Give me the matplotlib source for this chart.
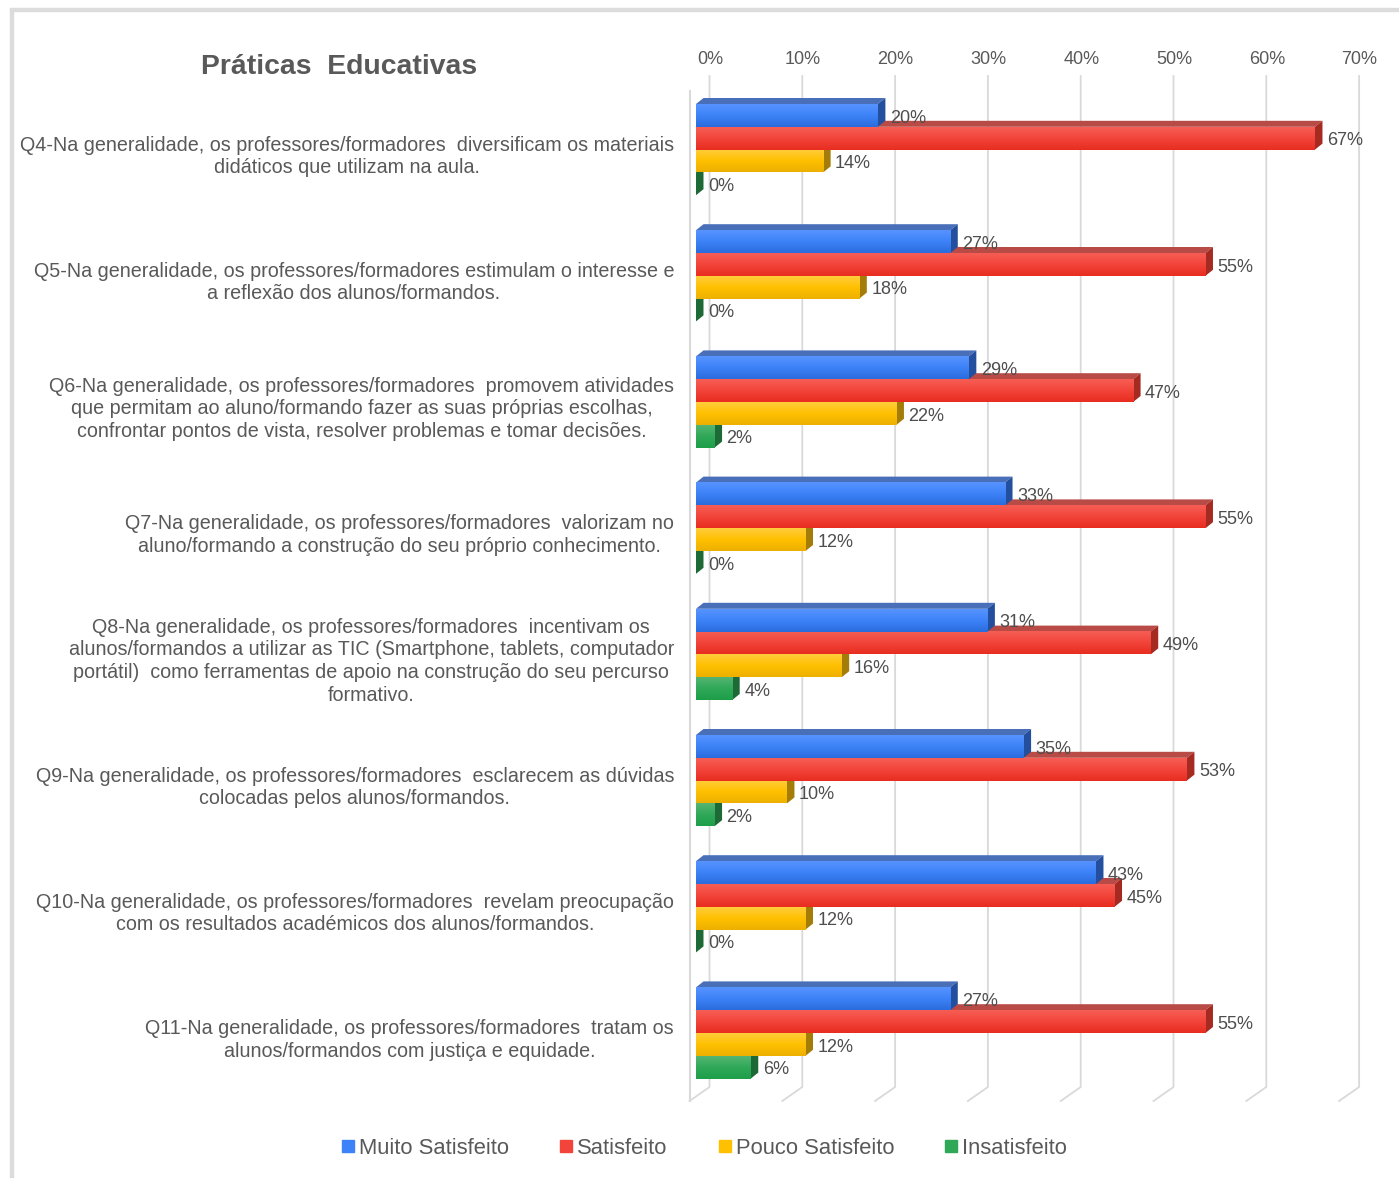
import numpy as np
import matplotlib
matplotlib.use("Agg")
import matplotlib.pyplot as plt
from matplotlib.colors import LinearSegmentedColormap
from matplotlib.lines import Line2D
from matplotlib.patches import Polygon
from matplotlib.transforms import Affine2D, IdentityTransform

plt.rcParams['font.family'] = ['Liberation Sans', 'DejaVu Sans']

# dados (%)
questions = [
    "Q4-Na generalidade, os professores/formadores  diversificam os materiais\ndidáticos que utilizam na aula.",
    "Q5-Na generalidade, os professores/formadores estimulam o interesse e\na reflexão dos alunos/formandos.",
    "Q6-Na generalidade, os professores/formadores  promovem atividades\nque permitam ao aluno/formando fazer as suas próprias escolhas,\nconfrontar pontos de vista, resolver problemas e tomar decisões.",
    "Q7-Na generalidade, os professores/formadores  valorizam no\naluno/formando a construção do seu próprio conhecimento.",
    "Q8-Na generalidade, os professores/formadores  incentivam os\nalunos/formandos a utilizar as TIC (Smartphone, tablets, computador\nportátil)  como ferramentas de apoio na construção do seu percurso\nformativo.",
    "Q9-Na generalidade, os professores/formadores  esclarecem as dúvidas\ncolocadas pelos alunos/formandos.",
    "Q10-Na generalidade, os professores/formadores  revelam preocupação\ncom os resultados académicos dos alunos/formandos.",
    "Q11-Na generalidade, os professores/formadores  tratam os\nalunos/formandos com justiça e equidade.",
]
muito_satisfeito = [19.6, 27.4, 29.4, 33.3, 31.4, 35.3, 43.1, 27.4]
satisfeito = [66.7, 54.9, 47.1, 54.9, 49.0, 52.9, 45.1, 54.9]
pouco_satisfeito = [13.7, 17.6, 21.6, 11.8, 15.7, 9.8, 11.8, 11.8]
insatisfeito = [0.0, 0.0, 2.0, 0.0, 3.9, 2.0, 0.0, 5.9]
x_ticks = [0, 10, 20, 30, 40, 50, 60, 70]

series = [
    ("Muito Satisfeito", muito_satisfeito, ["#5793FF", "#3D82F8", "#2A6CDD"], "#234F9E", "#4A6FB9"),
    ("Satisfeito", satisfeito, ["#F65E55", "#F2443A", "#E82D20"], "#A52A22", "#B94B46"),
    ("Pouco Satisfeito", pouco_satisfeito, ["#FFCD3C", "#FFC000", "#EDB000"], "#A47D08", "#BF9A2E"),
    ("Insatisfeito", insatisfeito, ["#55B472", "#2FA858", "#1E9E49"], "#1E6A36", "#4C8F62"),
]

W, H = 1399, 1178
PX_PER_PCT = 9.28
BAR_H = 22.8 / 126.2
DEPTH_X, DEPTH_Y = 7.5, 6
TEXT = "#595959"
VALUE_TEXT = "#4D4D4D"
GRID = "#D9D9D9"


def frac_x(px):
    return px / W


def frac_y(px):
    return 1 - px / H


fig = plt.figure(figsize=(W / 100, H / 100), dpi=100)
ax_left, ax_top, ax_bottom = 696, 92, 1101
ax = fig.add_axes([frac_x(ax_left), frac_y(ax_bottom),
                   70 * PX_PER_PCT / W, (ax_bottom - ax_top) / H])
ax.set_facecolor("none")
for spine in ax.spines.values():
    spine.set_visible(False)

ylim = ((ax_bottom - 149.6) / 126.2, (ax_top - 149.6) / 126.2)
ax.set_xlim(0, 70)
ax.set_ylim(*ylim)


def to_px(x, y, dx=0, dy=0):
    px, py = ax.transData.transform((x, y))
    return px + dx, py + dy


# moldura cinzenta
fig.add_artist(Line2D([frac_x(12), frac_x(12), 1], [0, frac_y(10), frac_y(10)],
                      color="#DCDCDC", lw=3.2, solid_joinstyle="miter"))

# grelha com a parede em perspetiva
wall_y = ax.transAxes.transform((0, 0))[1]
ax.add_line(Line2D([ax_left - 6.5] * 2, [wall_y, wall_y + 1010], transform=IdentityTransform(),
                   color=GRID, lw=1.5, clip_on=False, zorder=1))
for tick in x_ticks:
    base_x = ax.transData.transform((tick, 0))[0]
    ax.add_line(Line2D([base_x - 6.5, base_x + 13.5, base_x + 13.5],
                       [wall_y, wall_y + 14, wall_y + 1025],
                       transform=IdentityTransform(), color=GRID, lw=1.3,
                       clip_on=False, zorder=1))

ys = np.arange(len(questions))
legend_handles = []
# de baixo para cima, a barra de cima tapa a face superior da seguinte
for s in range(len(series) - 1, -1, -1):
    name, values, grad, side_c, top_c = series[s]
    offset = (s - 1.5) * BAR_H
    z = 10 + (3 - s) * 3
    cmap = LinearSegmentedColormap.from_list(name, grad)
    bars = ax.barh(ys + offset, values, height=BAR_H, color=grad[1], zorder=z, clip_on=False)
    legend_handles.insert(0, Line2D([], [], ls="", marker="s", ms=8.6, color=grad[1], label=name))
    for y, v, bar in zip(ys + offset, values, bars):
        y0, y1 = y - BAR_H / 2, y + BAR_H / 2
        # face superior
        p = [to_px(0, y0), to_px(0, y0, DEPTH_X, DEPTH_Y),
             to_px(v, y0, DEPTH_X, DEPTH_Y), to_px(v, y0)]
        ax.add_patch(Polygon(p, closed=True, fc=top_c, ec="none", transform=IdentityTransform(),
                             clip_on=False, zorder=z - 1))
        # face lateral
        p = [to_px(v, y0), to_px(v, y0, DEPTH_X, DEPTH_Y),
             to_px(v, y1, DEPTH_X, DEPTH_Y), to_px(v, y1)]
        ax.add_patch(Polygon(p, closed=True, fc=side_c, ec="none", transform=IdentityTransform(),
                             clip_on=False, zorder=z - 1))
        if v > 0:
            im = ax.imshow(np.linspace(0, 1, 64).reshape(-1, 1), extent=(0, v, y1, y0), cmap=cmap,
                           aspect="auto", origin="upper", zorder=z + 0.5)
            im.set_clip_on(False)
        ax.annotate(f"{round(v)}%", (v, y), xytext=(8.6, -2), textcoords="offset points",
                    va="center", ha="left", fontsize=13, color=VALUE_TEXT, zorder=40)

ax.set_xlim(0, 70)
ax.set_ylim(*ylim)
ax.set_aspect("auto")

ax.xaxis.tick_top()
ax.set_xticks(x_ticks)
ax.set_xticklabels([f"{t}%" for t in x_ticks], fontsize=13, color=TEXT)
ax.tick_params(axis="x", length=0, pad=17.5)
for label in ax.get_xticklabels():
    label.set_transform(label.get_transform() + Affine2D().translate(14, 0))

ax.set_yticks(ys)
ax.set_yticklabels(questions, fontsize=14.2, color=TEXT, multialignment="center", linespacing=1.24)
ax.tick_params(axis="y", length=0, pad=15.8)
for label in ax.get_yticklabels():
    label.set_transform(label.get_transform() + Affine2D().translate(0, -3))

fig.text(frac_x(339.5), frac_y(66.5), "Práticas  Educativas", ha="center", va="center",
         fontsize=20.4, fontweight="bold", color=TEXT)

fig.legend(handles=legend_handles, loc="center", bbox_to_anchor=(frac_x(704.5), frac_y(1148)), ncol=4,
           frameon=False, fontsize=15.8, labelcolor=TEXT, handlelength=0.6, handletextpad=0.2,
           columnspacing=2.3, borderpad=0)

fig.savefig("out.png", facecolor="white")
